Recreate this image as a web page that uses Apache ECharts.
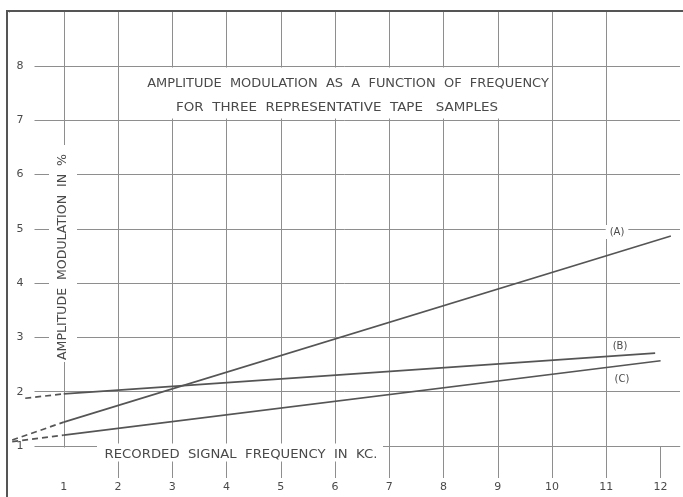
<!DOCTYPE html>
<html>
<head>
<meta charset="utf-8">
<script src="https://cdn.jsdelivr.net/npm/echarts@6/dist/echarts.min.js"></script>
<style>
html,body{margin:0;padding:0;background:#fff;overflow:hidden;}
#chart{width:683px;height:497px;}
</style>
</head>
<body>
<div id="chart"></div>
<script>
// ---- data ----
const xTicks = [1,2,3,4,5,6,7,8,9,10,11,12];
const yTicks = [1,2,3,4,5,6,7,8];
const sampleA = [[1, 1.44], [12.19, 4.87]];
const sampleB = [[1, 1.96], [11.9, 2.71]];
const sampleC = [[1, 1.20], [12.0, 2.57]];
const extA = [[0.05, 1.11], [1, 1.44]];
const extB = [[0.29, 1.88], [1, 1.96]];
const extC = [[0.05, 1.08], [1, 1.20]];
const seriesNames = ['(A)', '(B)', '(C)'];
const titleLines = ['AMPLITUDE  MODULATION  AS  A  FUNCTION  OF  FREQUENCY', 'FOR  THREE  REPRESENTATIVE  TAPE   SAMPLES'];
const yTitle = 'AMPLITUDE  MODULATION  IN  %';
const xTitle = 'RECORDED  SIGNAL  FREQUENCY  IN  KC.';

const GRID = '#8e8e8e';
const INK = '#555';
const TXT = '#4a4a4a';
const FONT = '"DejaVu Sans", sans-serif';

const chart = echarts.init(document.getElementById('chart'));

function solid(data){
  return {type:'line', data:data, showSymbol:false, symbol:'none', z:10,
    lineStyle:{color:INK, width:1.6}, silent:true};
}
function dashed(data){
  return {type:'line', data:data, showSymbol:false, symbol:'none', z:10,
    lineStyle:{color:INK, width:1.7, type:[6,4]}, silent:true};
}
function mask(x,y,w,h){
  return {type:'rect', z:5, shape:{x:x,y:y,width:w,height:h}, style:{fill:'#fff'}, silent:true};
}
function txt(t,x,y,size,sx,rot){
  return {type:'text', z:8, x:x, y:y, rotation: rot||0, scaleX: sx||1,
    style:{text:t, fill:TXT, font: size+'px '+FONT, align:'center', verticalAlign:'middle'}};
}

const option = {
  animation:false,
  backgroundColor:'#fff',
  grid:{left:9.5, top:11.7, right:0, height:434.3, containLabel:false},
  xAxis:[
    {type:'value', min:0, max:12.358, interval:1, position:'bottom', z:0,
     axisLine:{show:true, onZero:false, lineStyle:{color:GRID, width:1}},
     axisTick:{show:true, length:32, customValues:[0].concat(xTicks), lineStyle:{color:GRID, width:1}},
     axisLabel:{show:false},
     splitLine:{show:true, showMaxLine:false, lineStyle:{color:GRID, width:1}}},
    {type:'value', min:0, max:12.358, interval:1, position:'bottom', offset:0, z:6,
     axisLine:{show:false}, axisTick:{show:false}, splitLine:{show:false},
     axisLabel:{show:true, margin:36, color:TXT, fontSize:11, fontFamily:FONT,
       formatter:function(v){ return xTicks.indexOf(v) >= 0 ? String(v) : ''; }}}
  ],
  yAxis:[
    {type:'value', min:1, max:9, interval:1, position:'left', z:0,
     axisLine:{show:false}, axisTick:{show:false}, axisLabel:{show:false},
     splitLine:{show:true, lineStyle:{color:GRID, width:1}}},
    {type:'value', min:1, max:9, interval:1, position:'left', offset:0, z:6,
     axisLine:{show:false}, axisTick:{show:false}, splitLine:{show:false},
     axisLabel:{show:true, inside:true, margin:7, color:TXT, fontSize:11, fontFamily:FONT,
       formatter:function(v){ return yTicks.indexOf(v) >= 0 ? String(v) : ''; }}}
  ],
  series:[
    solid(sampleA), solid(sampleB), solid(sampleC),
    dashed(extA), dashed(extB), dashed(extC)
  ],
  graphic:[
    mask(8.5, 12.5, 26, 490),
    mask(140, 67.5, 406, 51),
    mask(49, 145, 28, 217),
    mask(97, 443.5, 286, 18),
    mask(55, 447.5, 42, 31),
    mask(680.5, 12.5, 4, 490),
    {type:'line', z:7, shape:{x1:7, y1:11, x2:683, y2:11}, style:{stroke:'#555', lineWidth:2}},
    {type:'line', z:7, shape:{x1:7, y1:10, x2:7, y2:497}, style:{stroke:'#555', lineWidth:2}},
    txt(titleLines[0], 348, 83.5, 12, 1.08),
    txt(titleLines[1], 337, 107.5, 12, 1.12),
    txt(yTitle, 63, 257, 12, 1.045, Math.PI/2),
    txt(xTitle, 241, 455, 12, 1.1),
    {type:'text', z:8, x:617, y:232, style:{text:seriesNames[0], fill:TXT, font:'10px '+FONT, align:'center', verticalAlign:'middle', backgroundColor:'#fff', padding:[2,4]}},
    {type:'text', z:8, x:620, y:346, style:{text:seriesNames[1], fill:TXT, font:'10px '+FONT, align:'center', verticalAlign:'middle'}},
    {type:'text', z:8, x:622, y:379, style:{text:seriesNames[2], fill:TXT, font:'10px '+FONT, align:'center', verticalAlign:'middle'}}
  ]
};
chart.setOption(option);
</script>
</body>
</html>
